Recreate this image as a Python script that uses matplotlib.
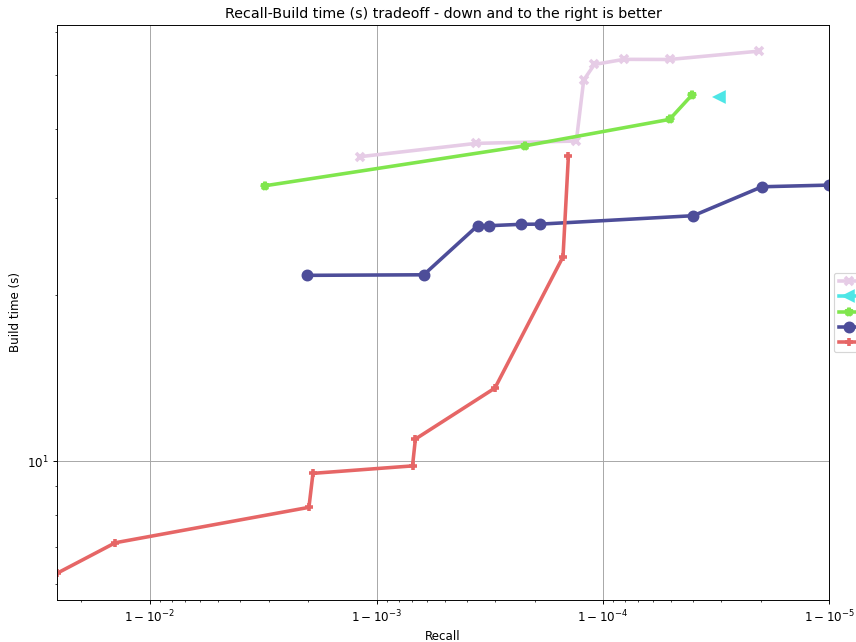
import matplotlib
matplotlib.use("Agg")
import matplotlib.pyplot as plt
from matplotlib.ticker import NullFormatter

# recall / build time (s) per run, one list pair per algorithm
names = ["algo-e", "algo-b", "algo-d", "algo-c", "algo-a"]

recall_e = [0.998810, 0.999636, 0.999869, 0.9998785, 0.999891, 0.9999193, 0.9999493, 0.9999797]
build_e = [35.59, 37.63, 38.0, 49.0, 52.3, 53.43, 53.4, 55.3]

recall_b = [0.9999696]
build_b = [45.64]

recall_d = [0.996887, 0.99978, 0.9999493, 0.9999596]
build_d = [31.53, 37.26, 41.59, 46.03]

recall_c = [0.997978, 0.999381, 0.999642, 0.999681, 0.999771, 0.999811, 0.9999602, 0.9999802, 0.99999]
build_c = [21.70, 21.75, 26.69, 26.69, 26.85, 26.87, 27.83, 31.40, 31.62]

recall_a = [0.97473, 0.98588, 0.99801, 0.99809, 0.999306, 0.999326, 0.99970, 0.99985, 0.999858]
build_a = [6.261, 7.112, 8.244, 9.50, 9.80, 10.96, 13.56, 23.45, 35.69]

series = [
    (recall_e, build_e, (0.9, 0.8, 0.9), "x"),
    (recall_b, build_b, (0.3, 0.9, 0.9), "<"),
    (recall_d, build_d, (0.5, 0.9, 0.3), "*"),
    (recall_c, build_c, (0.3, 0.3, 0.6), "o"),
    (recall_a, build_a, (0.9, 0.4, 0.4), "+"),
]

# 10x7.5 in figure, saved at 85.6 dpi -> 856x642 px
fig = plt.figure(figsize=(10, 7.5), dpi=85.6)
ax = fig.add_axes([57 / 856, 1 - 600 / 642, (829 - 57) / 856, (600 - 25) / 642])

for name, (xs, ys, color, marker) in zip(names, series):
    ax.plot(xs, ys, "-", label=name, color=color, ms=7, mew=3, lw=3, marker=marker)

ax.set_xscale("logit")
ax.set_yscale("log")
ax.set_xlim(recall_a[0], 1 - 1e-5)
ax.set_ylim(5.601, 61.66)
ax.xaxis.set_minor_formatter(NullFormatter())
ax.yaxis.set_minor_formatter(NullFormatter())

ax.set_xlabel("Recall")
ax.set_ylabel("Build time (s)")
ax.set_title("Recall-Build time (s) tradeoff - down and to the right is better")
ax.grid(visible=True, which="major", color="0.65", linestyle="-")
ax.legend(loc="center left", bbox_to_anchor=(1, 0.5), prop={"size": 9})

fig.savefig("out.png", dpi=85.6)
